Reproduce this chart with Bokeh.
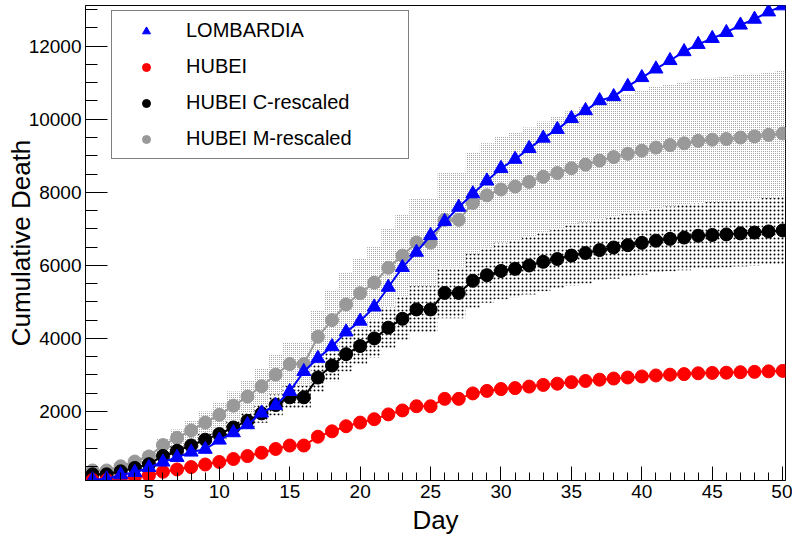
from bokeh.plotting import figure
from bokeh.models import Range1d, FixedTicker, Legend, LegendItem
from bokeh.embed import file_html
from bokeh.resources import INLINE

days = list(range(1, 51))

lombardia = [135, 154, 267, 333, 468, 617, 744, 890, 966, 1218,
             1420, 1640, 1959, 2168, 2549, 3095, 3456, 3776, 4178, 4474,
             4861, 5402, 5944, 6360, 6818, 7199, 7593, 7960, 8311, 8656,
             8905, 9202, 9484, 9722, 10022, 10238, 10511, 10621, 10901, 11142,
             11377, 11608, 11851, 12050, 12213, 12376, 12579, 12740, 12940, 13106]

hubei = [125, 125, 162, 204, 249, 350, 414, 479, 549, 618,
         699, 780, 871, 974, 1068, 1068, 1310, 1457, 1596, 1696,
         1789, 1921, 2029, 2144, 2144, 2346, 2346, 2495, 2563, 2615,
         2641, 2682, 2727, 2761, 2803, 2835, 2871, 2902, 2931, 2959,
         2986, 3008, 3024, 3046, 3056, 3062, 3075, 3085, 3099, 3111]

hubei_c = [280, 280, 362, 456, 557, 783, 926, 1071, 1228, 1382,
           1563, 1744, 1948, 2178, 2388, 2388, 2929, 3258, 3569, 3792,
           4000, 4295, 4537, 4794, 4794, 5246, 5246, 5579, 5731, 5847,
           5905, 5997, 6098, 6174, 6268, 6339, 6420, 6489, 6554, 6616,
           6677, 6726, 6762, 6811, 6833, 6847, 6876, 6898, 6929, 6956]

hubei_m = [386, 386, 500, 630, 769, 1081, 1279, 1480, 1696, 1909,
           2159, 2409, 2691, 3009, 3299, 3299, 4047, 4501, 4930, 5239,
           5526, 5934, 6268, 6623, 6623, 7247, 7247, 7707, 7917, 8078,
           8158, 8285, 8424, 8529, 8659, 8757, 8869, 8964, 9054, 9140,
           9224, 9292, 9341, 9409, 9440, 9459, 9499, 9530, 9573, 9610]

m_band_hi = [456, 456, 590, 744, 908, 1276, 1509, 1746, 2001, 2253,
             2548, 2843, 3175, 3550, 3893, 3893, 4775, 5311, 5817, 6182,
             6521, 7002, 7396, 7815, 7815, 8551, 8551, 9094, 9342, 9532,
             9626, 9776, 9940, 10064, 10217, 10334, 10465, 10578, 10684, 10786,
             10884, 10964, 11023, 11103, 11139, 11161, 11209, 11245, 11296, 11340]

m_band_lo = [317, 317, 410, 517, 631, 887, 1049, 1213, 1391, 1565,
             1771, 1976, 2206, 2467, 2705, 2705, 3318, 3691, 4043, 4296,
             4532, 4866, 5139, 5431, 5431, 5942, 5942, 6320, 6492, 6624,
             6690, 6794, 6907, 6994, 7100, 7181, 7272, 7351, 7424, 7495,
             7564, 7619, 7660, 7716, 7741, 7756, 7789, 7814, 7850, 7880]

c_band_hi = [316, 316, 410, 516, 630, 886, 1048, 1212, 1390, 1564,
             1769, 1974, 2205, 2465, 2703, 2703, 3316, 3688, 4040, 4293,
             4528, 4862, 5136, 5427, 5427, 5938, 5938, 6315, 6487, 6619,
             6685, 6789, 6903, 6989, 7095, 7176, 7267, 7345, 7419, 7490,
             7558, 7614, 7654, 7710, 7735, 7750, 7783, 7809, 7844, 7874]

c_band_lo = [243, 243, 314, 396, 483, 679, 804, 930, 1066, 1199,
             1357, 1514, 1691, 1890, 2073, 2073, 2543, 2828, 3098, 3292,
             3472, 3728, 3938, 4161, 4161, 4553, 4553, 4842, 4974, 5075,
             5126, 5205, 5293, 5359, 5440, 5502, 5572, 5632, 5689, 5743,
             5795, 5838, 5869, 5912, 5931, 5943, 5968, 5988, 6015, 6038]

x_ticks = [5, 10, 15, 20, 25, 30, 35, 40, 45, 50]
x_minor = list(range(1, 51))
y_ticks = [2000, 4000, 6000, 8000, 10000, 12000]
y_minor = [v * 500 for v in range(1, 27)]

labels = ["LOMBARDIA", "HUBEI", "HUBEI C-rescaled", "HUBEI M-rescaled"]

FONT = "Liberation Sans"

p = figure(width=792, height=537, output_backend="svg", toolbar_location=None,
           x_range=Range1d(0.5, 50.2), y_range=Range1d(111, 13114),
           min_border_left=85, min_border_right=7, min_border_top=5,
           min_border_bottom=57, background_fill_color="white",
           border_fill_color="white")
p.grid.visible = False
p.outline_line_color = "black"
p.outline_line_width = 1


def box_edges(xs, vals):
    ex, ev = [], []
    for x, v in zip(xs, vals):
        ex += [x - 0.5, x + 0.5]
        ev += [v, v]
    return ex, ev


ex, mhi = box_edges(days, m_band_hi)
_, mlo = box_edges(days, m_band_lo)
_, chi = box_edges(days, c_band_hi)
_, clo = box_edges(days, c_band_lo)

p.varea(x=ex, y1=mlo, y2=mhi, fill_alpha=0, hatch_pattern=".",
        hatch_color="#8c8c8c", hatch_scale=2, hatch_weight=1)
p.varea(x=ex, y1=clo, y2=chi, fill_alpha=0, hatch_pattern=".",
        hatch_color="black", hatch_scale=4, hatch_weight=1.2)

GRAY = "#999999"
p.line(days, hubei_m, line_color=GRAY, line_width=2)
r_m = p.scatter(days, hubei_m, marker="circle", size=13, fill_color=GRAY, line_color=GRAY)
p.line(days, hubei_c, line_color="black", line_width=2)
r_c = p.scatter(days, hubei_c, marker="circle", size=13, fill_color="black", line_color="black")
p.line(days, hubei, line_color="#ff0000", line_width=2)
r_h = p.scatter(days, hubei, marker="circle", size=13, fill_color="#ff0000", line_color="#ff0000")
p.line(days, lombardia, line_color="#0000ff", line_width=2)
r_l = p.scatter(days, lombardia, marker="triangle", size=14, fill_color="#0000ff", line_color="#0000ff")

# axes
p.xaxis.ticker = FixedTicker(ticks=x_ticks, minor_ticks=x_minor)
p.yaxis.ticker = FixedTicker(ticks=y_ticks, minor_ticks=y_minor)
for ax in (p.xaxis[0], p.yaxis[0]):
    ax.axis_line_color = "black"
    ax.axis_line_width = 1
    ax.major_tick_line_color = "black"
    ax.minor_tick_line_color = "black"
    ax.major_tick_out = 0
    ax.minor_tick_out = 0
    ax.major_label_text_font = FONT
    ax.major_label_text_font_size = "19px"
    ax.major_label_text_color = "black"
    ax.axis_label_text_font = FONT
    ax.axis_label_text_font_size = "26px"
    ax.axis_label_text_font_style = "normal"
    ax.axis_label_text_color = "black"

p.xaxis.major_tick_in = 14
p.xaxis.minor_tick_in = 8
p.yaxis.major_tick_in = 22
p.yaxis.minor_tick_in = 12
p.xaxis.major_label_standoff = 4
p.yaxis.major_label_standoff = 4
p.xaxis.axis_label = "Day"
p.yaxis.axis_label = "Cumulative Death"
p.xaxis.axis_label_standoff = 4
p.yaxis.axis_label_standoff = -10

legend = Legend(items=[LegendItem(label=labels[0], renderers=[r_l]),
                       LegendItem(label=labels[1], renderers=[r_h]),
                       LegendItem(label=labels[2], renderers=[r_c]),
                       LegendItem(label=labels[3], renderers=[r_m])],
                location=(26, 321))
legend.padding = 8
legend.spacing = 13
legend.margin = 0
legend.glyph_width = 52
legend.glyph_height = 20
legend.label_height = 20
legend.label_standoff = 14
legend.label_width = 214
legend.border_line_color = "black"
legend.border_line_width = 1
legend.background_fill_color = "white"
legend.background_fill_alpha = 1
legend.label_text_font = FONT
legend.label_text_font_size = "20px"
legend.label_text_color = "black"
p.add_layout(legend)

open("out.html", "w").write(file_html(p, INLINE))
